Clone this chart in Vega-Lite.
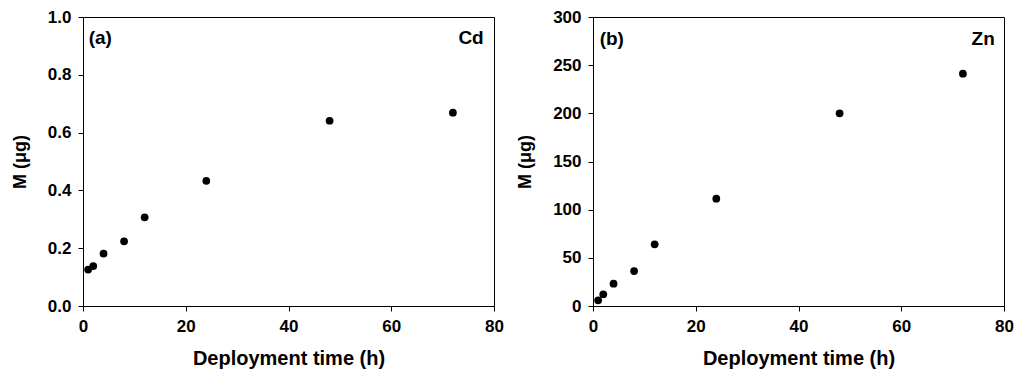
{
  "$schema": "https://vega.github.io/schema/vega-lite/v6.json",
  "padding": {"left": 10, "top": 7, "right": 5, "bottom": 5},
  "background": "white",
  "datasets": {
    "pts": [
      {"metal": "Cd", "t": 1, "m": 0.126},
      {"metal": "Cd", "t": 2, "m": 0.138},
      {"metal": "Cd", "t": 4, "m": 0.181},
      {"metal": "Cd", "t": 8, "m": 0.224},
      {"metal": "Cd", "t": 12, "m": 0.307},
      {"metal": "Cd", "t": 24, "m": 0.433},
      {"metal": "Cd", "t": 48, "m": 0.641},
      {"metal": "Cd", "t": 72, "m": 0.669},
      {"metal": "Zn", "t": 1, "m": 5.9},
      {"metal": "Zn", "t": 2, "m": 12.1},
      {"metal": "Zn", "t": 4, "m": 23.2},
      {"metal": "Zn", "t": 8, "m": 36.3},
      {"metal": "Zn", "t": 12, "m": 64.0},
      {"metal": "Zn", "t": 24, "m": 111.4},
      {"metal": "Zn", "t": 48, "m": 200.0},
      {"metal": "Zn", "t": 72, "m": 241.2}
    ],
    "labels": [
      {"metal": "Cd", "tag": "(a)"},
      {"metal": "Zn", "tag": "(b)"}
    ]
  },
  "spacing": 12,
  "hconcat": [
    {
      "width": 411,
      "height": 289,
      "layer": [
        {
          "data": {"name": "pts"},
          "transform": [{"filter": "datum.metal === 'Cd'"}],
          "mark": {"type": "point", "filled": true, "shape": "circle", "size": 60, "color": "black", "opacity": 1},
          "encoding": {
            "x": {"field": "t", "type": "quantitative", "scale": {"domain": [0, 80], "nice": false, "zero": false}, "axis": {"title": "Deployment time (h)", "values": [0, 20, 40, 60, 80]}},
            "y": {"field": "m", "type": "quantitative", "scale": {"domain": [0, 1], "nice": false}, "axis": {"title": "M (μg)", "values": [0, 0.2, 0.4, 0.6, 0.8, 1.0], "format": ".1f"}}
          }
        },
        {
          "data": {"name": "labels"},
          "transform": [{"filter": "datum.metal === 'Cd'"}],
          "mark": {"type": "text", "align": "left", "baseline": "middle", "font": "Liberation Sans", "fontWeight": "bold", "fontSize": 19, "color": "black"},
          "encoding": {"x": {"datum": 1.1}, "y": {"datum": 0.926}, "text": {"field": "tag"}}
        },
        {
          "data": {"name": "labels"},
          "transform": [{"filter": "datum.metal === 'Cd'"}],
          "mark": {"type": "text", "align": "right", "baseline": "middle", "font": "Liberation Sans", "fontWeight": "bold", "fontSize": 19, "color": "black"},
          "encoding": {"x": {"datum": 78.0}, "y": {"datum": 0.926}, "text": {"field": "metal"}}
        }
      ]
    },
    {
      "width": 411,
      "height": 289,
      "layer": [
        {
          "data": {"name": "pts"},
          "transform": [{"filter": "datum.metal === 'Zn'"}],
          "mark": {"type": "point", "filled": true, "shape": "circle", "size": 60, "color": "black", "opacity": 1},
          "encoding": {
            "x": {"field": "t", "type": "quantitative", "scale": {"domain": [0, 80], "nice": false, "zero": false}, "axis": {"title": "Deployment time (h)", "values": [0, 20, 40, 60, 80]}},
            "y": {"field": "m", "type": "quantitative", "scale": {"domain": [0, 300], "nice": false}, "axis": {"title": "M (μg)", "values": [0, 50, 100, 150, 200, 250, 300]}}
          }
        },
        {
          "data": {"name": "labels"},
          "transform": [{"filter": "datum.metal === 'Zn'"}],
          "mark": {"type": "text", "align": "left", "baseline": "middle", "font": "Liberation Sans", "fontWeight": "bold", "fontSize": 19, "color": "black"},
          "encoding": {"x": {"datum": 1.3}, "y": {"datum": 277.5}, "text": {"field": "tag"}}
        },
        {
          "data": {"name": "labels"},
          "transform": [{"filter": "datum.metal === 'Zn'"}],
          "mark": {"type": "text", "align": "right", "baseline": "middle", "font": "Liberation Sans", "fontWeight": "bold", "fontSize": 19, "color": "black"},
          "encoding": {"x": {"datum": 78.2}, "y": {"datum": 277.5}, "text": {"field": "metal"}}
        }
      ]
    }
  ],
  "config": {
    "view": {"stroke": "black", "strokeWidth": 1},
    "font": "Liberation Sans",
    "axis": {
      "grid": false,
      "domainColor": "black",
      "tickColor": "black",
      "tickSize": 5,
      "labelFont": "Liberation Sans",
      "labelFontWeight": "bold",
      "labelFontSize": 17,
      "labelColor": "black",
      "labelPadding": 7,
      "labelFlush": false,
      "labelOverlap": false,
      "titleFont": "Liberation Sans",
      "titleFontWeight": "bold",
      "titleColor": "black"
    },
    "axisX": {"titleFontSize": 20, "titlePadding": 14, "labelPadding": 7},
    "axisY": {"titleFontSize": 18, "titlePadding": 18}
  }
}
